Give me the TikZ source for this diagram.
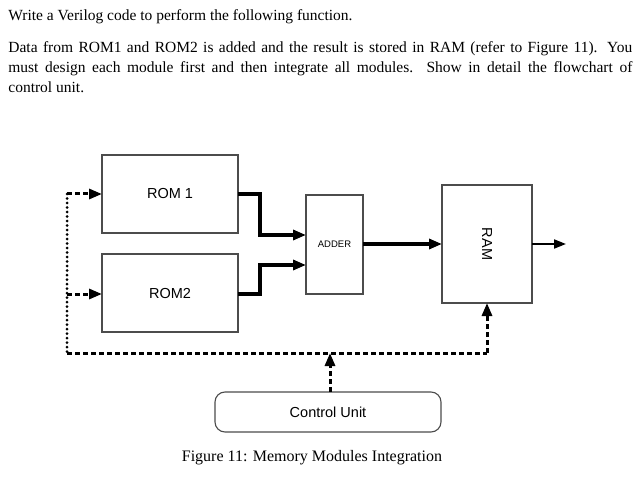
\documentclass[tikz,border=0pt]{standalone}
\usepackage{fontspec}
\setmainfont{Liberation Serif}
\newfontfamily\diagfont{Liberation Sans}
\usetikzlibrary{arrows.meta}
\tikzset{every picture/.style={line width=0.75pt}}
\tikzset{
  blk/.style={draw=black!70,line width=1.1pt},
  lbl/.style={inner sep=0.75pt,font=\diagfont\fontsize{14.5}{17}\selectfont},
  bus/.style={line width=3.5pt,-{Triangle[length=13pt,width=10pt]}},
  ctl/.style={line width=3pt,dash pattern=on 5pt off 3pt},
  ctlarr/.style={ctl,-{Triangle[length=13pt,width=10pt]}}
}
\begin{document}
\begin{tikzpicture}[x=1pt,y=-1pt]
\useasboundingbox (0,0) rectangle (643,484);

% Text
\node (q) [anchor=north west,inner sep=0pt,font=\fontsize{15.5}{20}\selectfont] at (8,9) {Write a Verilog code to perform the following function.};
\node (para) [anchor=north west,inner sep=0pt,text width=624pt,align=justify,font=\fontsize{15.5}{20}\selectfont] at (8,41) {Data from ROM1 and ROM2 is added and the result is stored in RAM (refer to Figure 11). You\linebreak must design each module first and then integrate all modules. Show in detail the flowchart of\linebreak control unit.};

%Blocks
\draw [blk] (102,155) rectangle (238,233);
\draw [blk] (102,254) rectangle (238,332);
\draw [blk] (306,195) rectangle (363,294);
\draw [blk] (442,185) rectangle (532,303);
\draw [blk,rounded corners=10pt] (215,392) rectangle (441,432);

% Labels
\node (rom1) [lbl] at (170,194) {ROM 1};
\node (rom2) [lbl] at (170,294) {ROM2};
\node (add) [lbl,font=\diagfont\fontsize{9.5}{11}\selectfont] at (334.5,244) {ADDER};
\node (ram) [lbl,rotate=-90] at (487,244) {RAM};
\node (cu) [lbl] at (328,412) {Control Unit};

% Data paths
\coordinate (r1o) at (238,194);
\coordinate (r2o) at (238,294);
\coordinate (a1) at (306,235);
\coordinate (a2) at (306,265);
\coordinate (ao) at (363,244);
\coordinate (ri) at (442,244);
\coordinate (ro) at (532,244);
\coordinate (out) at (566,244);
\draw [bus] (r1o) -| (260,235) -- (a1);
\draw [bus] (r2o) -| (260,265) -- (a2);
\draw [bus] (ao) -- (ri);
\draw [line width=2pt,-{Triangle[length=12pt,width=9pt]}] (ro) -- (out);

% Control lines
\coordinate (c1) at (102,194);
\coordinate (c2) at (102,294);
\coordinate (cb) at (67,353);
\coordinate (cm) at (330,353);
\coordinate (cr) at (487,353);
\coordinate (cuo) at (330,392);
\coordinate (rami) at (487,303);
\draw [ctl] (cb) -- (cr);
\draw [line width=3pt,line cap=round,dash pattern=on 0pt off 4.5pt] (67,194) -- (cb);
\draw [ctlarr] (67,194) -- (c1);
\draw [ctlarr] (67,294) -- (c2);
\draw [ctlarr] (cuo) -- (cm);
\draw [ctlarr] (cr) -- (rami);

% Caption
\node (cap) [inner sep=0pt,font=\fontsize{16}{18}\selectfont] at (312,458) {Figure 11: Memory Modules Integration};
\end{tikzpicture}
\end{document}
